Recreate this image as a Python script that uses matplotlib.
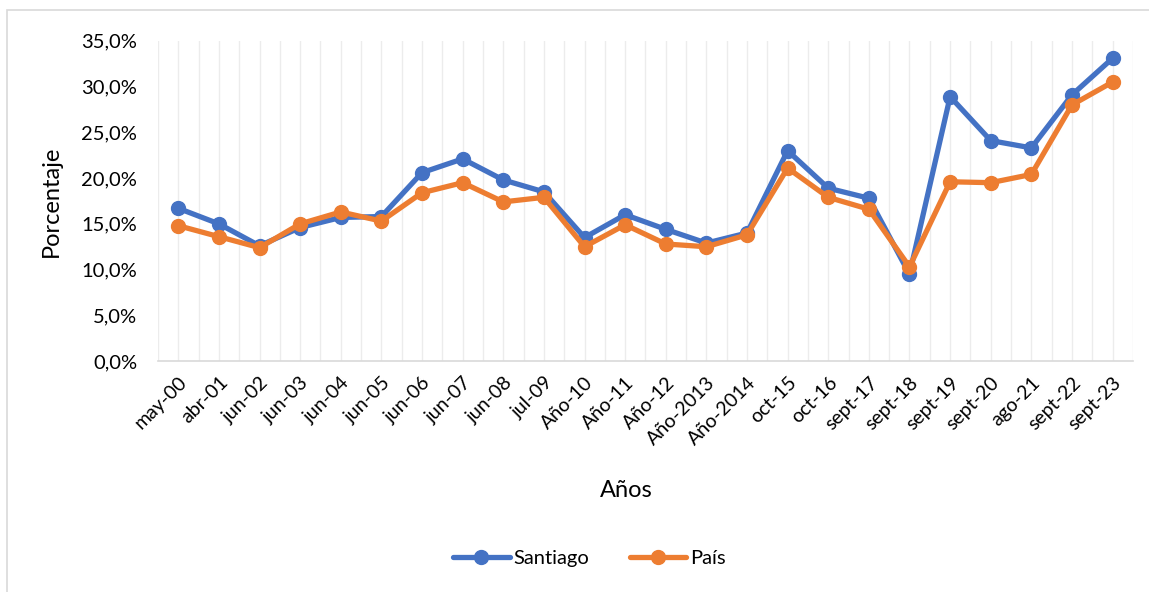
import matplotlib.pyplot as plt
import matplotlib.patches as mpatches
import numpy as np

# ---------------------------------------------------------------------------
# Data
# ---------------------------------------------------------------------------

categorias = [
    "may-00", "abr-01", "jun-02", "jun-03", "jun-04", "jun-05", "jun-06",
    "jun-07", "jun-08", "jul-09", "Año-10", "Año-11", "Año-12", "Año-2013",
    "Año-2014", "oct-15", "oct-16", "sept-17", "sept-18", "sept-19",
    "sept-20", "ago-21", "sept-22", "sept-23",
]
santiago = [16.7, 15.0, 12.6, 14.6, 15.7, 15.8, 20.6, 22.1, 19.8, 18.5,
            13.5, 16.0, 14.4, 12.9, 14.0, 23.0, 18.9, 17.8, 9.5, 28.9,
            24.1, 23.3, 29.1, 33.1]
pais = [14.8, 13.6, 12.4, 15.0, 16.3, 15.3, 18.4, 19.5, 17.4, 17.9,
        12.5, 14.9, 12.8, 12.5, 13.8, 21.1, 17.9, 16.6, 10.3, 19.6,
        19.5, 20.4, 28.0, 30.5]
y_ticks = [0, 5, 10, 15, 20, 25, 30, 35]

AZUL = "#4472C4"
NARANJA = "#ED7D31"

plt.rcParams["font.family"] = ["Lato", "DejaVu Sans"]

fig = plt.figure(figsize=(11.49, 5.92), dpi=100)
ax = fig.add_axes([0.1375, 0.390, 0.8485, 0.541])

# outer chart frame
fig.patches.append(mpatches.Rectangle(
    (0.006, -0.01), 1.0, 0.993, transform=fig.transFigure,
    fill=False, edgecolor="#d9d9d9", lw=1.2))

x = np.arange(len(categorias))
ax.plot(x, santiago, color=AZUL, lw=3.8, marker="o", ms=10, label="Santiago",
        solid_capstyle="round", zorder=3)
ax.plot(x, pais, color=NARANJA, lw=3.8, marker="o", ms=10, label="País",
        solid_capstyle="round", zorder=4)

# vertical gridlines every half category
for g in np.arange(-0.5, len(categorias), 0.5):
    ax.axvline(g, color="#ececec", lw=1.0, zorder=0)

ax.set_xlim(-0.5, len(categorias) - 0.5)
ax.set_ylim(0, 35)
ax.set_yticks(y_ticks)
ax.set_yticklabels([f"{v:.1f}%".replace(".", ",") for v in y_ticks],
                   fontsize=14.5)
ax.set_xticks(x)
ax.set_xticklabels(categorias, rotation=45, ha="right",
                   rotation_mode="anchor", fontsize=14)
ax.tick_params(axis="y", length=0, pad=15)
ax.tick_params(axis="x", length=0, pad=9)

for side in ("top", "right", "left"):
    ax.spines[side].set_visible(False)
ax.spines["bottom"].set_color("#d9d9d9")
ax.spines["bottom"].set_linewidth(1.2)

ax.set_ylabel("Porcentaje", fontsize=17, labelpad=14)
fig.text(0.545, 0.172, "Años", fontsize=17, ha="center", va="center")

fig.legend(loc="center", bbox_to_anchor=(0.513, 0.057), ncol=2,
           frameon=False, fontsize=14.5, handlelength=2.8,
           columnspacing=2.0, handletextpad=0.2)

fig.savefig("out.png", dpi=100)
